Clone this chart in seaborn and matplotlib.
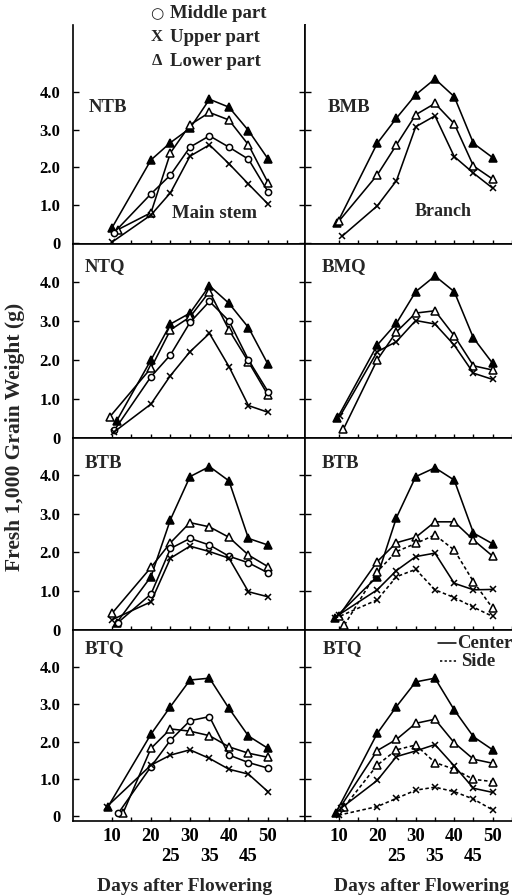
import matplotlib
matplotlib.use("Agg")
import matplotlib.pyplot as plt
from matplotlib.lines import Line2D
import seaborn as sns
import pandas as pd

sns.set_theme(style="white")
plt.rcParams["font.family"] = ["Liberation Serif", "DejaVu Serif"]
plt.rcParams["font.weight"] = "bold"

# ---------------- data (fresh 1,000 grain weight, g) ----------------
DAYS = [10, 20, 25, 30, 35, 40, 45, 50]

# NTB - main stem
ntb_filled = [0.40, 2.20, 2.66, 3.04, 3.81, 3.60, 2.98, 2.23]
ntb_lower = [0.35, 0.80, 2.39, 3.13, 3.46, 3.26, 2.60, 1.60]
ntb_middle = [0.27, 1.30, 1.80, 2.54, 2.84, 2.54, 2.22, 1.36]
ntb_upper = [0.02, 0.74, 1.33, 2.30, 2.60, 2.10, 1.56, 1.03]

# BMB - branch
bmb_filled = [0.52, 2.64, 3.31, 3.93, 4.35, 3.88, 2.64, 2.26]
bmb_lower = [0.57, 1.80, 2.60, 3.40, 3.70, 3.16, 2.04, 1.69]
bmb_upper = [0.17, 0.98, 1.65, 3.08, 3.37, 2.29, 1.85, 1.45]

# NTQ
ntq_filled = [0.44, 2.00, 2.92, 3.20, 3.90, 3.45, 2.83, 1.89]
ntq_lower = [0.55, 1.79, 2.77, 3.10, 3.75, 2.77, 1.95, 1.10]
ntq_middle = [0.20, 1.57, 2.13, 2.96, 3.50, 3.00, 2.00, 1.19]
ntq_upper = [0.16, 0.87, 1.60, 2.21, 2.68, 1.83, 0.83, 0.66]

# BMQ
bmq_filled = [0.50, 2.38, 2.94, 3.75, 4.15, 3.75, 2.56, 1.91]
bmq_lower = [0.22, 2.00, 2.72, 3.20, 3.26, 2.62, 1.85, 1.74]
bmq_upper = [0.57, 2.21, 2.47, 3.01, 2.92, 2.38, 1.66, 1.50]

# BTB (left)
btb_filled = [0.18, 1.37, 2.85, 3.96, 4.22, 3.85, 2.36, 2.19]
btb_lower = [0.42, 1.61, 2.25, 2.77, 2.66, 2.39, 1.93, 1.63]
btb_middle = [0.18, 0.92, 2.10, 2.36, 2.19, 1.90, 1.73, 1.47]
btb_upper = [0.25, 0.72, 1.85, 2.16, 2.02, 1.85, 0.98, 0.85]

# BTB (right, center / side)
btb2_filled = [0.30, 1.37, 2.90, 3.96, 4.19, 3.87, 2.50, 2.22]
btb2_lower_c = [0.35, 1.76, 2.25, 2.39, 2.79, 2.79, 2.32, 1.90]
btb2_lower_s = [0.12, 1.50, 2.02, 2.23, 2.45, 2.06, 1.24, 0.55]
btb2_upper_c = [0.38, 1.03, 1.53, 1.89, 1.98, 1.20, 1.03, 1.04]
btb2_upper_s = [0.29, 0.77, 1.37, 1.56, 1.03, 0.83, 0.58, 0.34]

# BTQ (left)
btq_filled = [0.26, 2.20, 2.94, 3.65, 3.70, 2.89, 2.15, 1.82]
btq_lower = [0.08, 1.82, 2.34, 2.28, 2.16, 1.86, 1.69, 1.58]
btq_middle = [0.08, 1.33, 2.04, 2.56, 2.67, 1.64, 1.44, 1.29]
btq_upper = [0.26, 1.37, 1.64, 1.78, 1.55, 1.26, 1.13, 0.66]

# BTQ (right, center / side)
btq2_filled = [0.08, 2.22, 2.94, 3.60, 3.70, 2.85, 2.13, 1.78]
btq2_lower_c = [0.26, 1.76, 2.06, 2.49, 2.60, 1.97, 1.53, 1.42]
btq2_lower_s = [0.26, 1.37, 1.78, 1.91, 1.44, 1.26, 0.99, 0.93]
btq2_upper_c = [0.21, 0.96, 1.60, 1.75, 1.92, 1.35, 0.75, 0.64]
btq2_upper_s = [0.03, 0.26, 0.48, 0.70, 0.78, 0.66, 0.46, 0.17]

# first sampling day (points near day 10 are slightly offset in the figure)
ntb_start = [10, 11.5, 10.5, 10]
bmb_start = [9.6, 10, 10.8]
ntq_start = [11.2, 9.5, 10.6, 10.6]
bmq_start = [9.6, 11.2, 10.4]
btb_start = [11.2, 10, 11.5, 9.9]
btb2_start = [9, 10, 11.5, 10, 9]
btq_start = [9, 12.8, 11.6, 8.7]
btq2_start = [9.2, 10.5, 11.5, 10.5, 10]

panel_names = ["NTB", "BMB", "NTQ", "BMQ", "BTB", "BTB", "BTQ", "BTQ"]
x_tick_vals = [10, 15, 20, 25, 30, 35, 40, 45, 50, 55]
x_tick_labels = ["10", "", "20", "\n25", "30", "\n35", "40", "\n45", "50", ""]
y_tick_vals = [0, 1, 2, 3, 4]
y_tick_labels = ["0", "1.0", "2.0", "3.0", "4.0"]

# ---------------- styles ----------------
STY = {
    "filled": dict(marker="^", markerfacecolor="black", markersize=5.3, linestyle="-"),
    "lower": dict(marker="^", markerfacecolor="white", markersize=5.3, linestyle="-"),
    "middle": dict(marker="o", markerfacecolor="white", markersize=4.5, linestyle="-"),
    "upper": dict(marker="x", markersize=4.8, linestyle="-"),
    "lower_s": dict(marker="^", markerfacecolor="white", markersize=5.3, linestyle=(0, (2.2, 1.6))),
    "upper_s": dict(marker="x", markersize=4.8, linestyle=(0, (2.2, 1.6))),
}

panels = [
    (ntb_start, [("filled", ntb_filled), ("lower", ntb_lower), ("middle", ntb_middle), ("upper", ntb_upper)]),
    (bmb_start, [("filled", bmb_filled), ("lower", bmb_lower), ("upper", bmb_upper)]),
    (ntq_start, [("filled", ntq_filled), ("lower", ntq_lower), ("middle", ntq_middle), ("upper", ntq_upper)]),
    (bmq_start, [("filled", bmq_filled), ("lower", bmq_lower), ("upper", bmq_upper)]),
    (btb_start, [("filled", btb_filled), ("lower", btb_lower), ("middle", btb_middle), ("upper", btb_upper)]),
    (btb2_start, [("filled", btb2_filled), ("lower", btb2_lower_c), ("lower_s", btb2_lower_s),
                  ("upper", btb2_upper_c), ("upper_s", btb2_upper_s)]),
    (btq_start, [("filled", btq_filled), ("lower", btq_lower), ("middle", btq_middle), ("upper", btq_upper)]),
    (btq2_start, [("filled", btq2_filled), ("lower", btq2_lower_c), ("lower_s", btq2_lower_s),
                  ("upper", btq2_upper_c), ("upper_s", btq2_upper_s)]),
]

# ---------------- layout ----------------
W, H = 512, 896
fig = plt.figure(figsize=(W / 100, H / 100), dpi=100)
fig.patch.set_facecolor("white")


def fx(x):
    return x / W


def fy(y):
    return 1 - y / H


cols = [(73, 305), (305, 512)]
rows = [(25, 244), (244, 438), (438, 630), (630, 821)]
ylims = [(-0.03, 5.78), (0, 4.97), (-0.01, 4.96), (-0.126, 4.99)]
xlims = [(0, 59.5), (1.25, 53)]
label_pos = [(89, 108), (328, 107), (85, 267), (322, 267), (85, 463), (322, 463), (85, 649), (323, 649)]

for i, (starts, series) in enumerate(panels):
    r, c = divmod(i, 2)
    x0, x1 = cols[c]
    y0, y1 = rows[r]
    ax = fig.add_axes([fx(x0), fy(y1), (x1 - x0) / W, (y1 - y0) / H])
    ax.set_facecolor("white")
    for k, (kind, vals) in enumerate(series):
        days = [starts[k]] + DAYS[1:]
        df = pd.DataFrame({"day": days, "w": vals})
        st = dict(STY[kind])
        sns.lineplot(data=df, x="day", y="w", ax=ax, color="black", linewidth=1.15,
                     markeredgecolor="black", markeredgewidth=1.1,
                     estimator=None, sort=False, **st)
    ax.set_xlim(*xlims[c])
    ax.set_ylim(*ylims[r])
    ax.set_xlabel("")
    ax.set_ylabel("")
    for s in ax.spines.values():
        s.set_color("black")
        s.set_linewidth(1.2)
    if r == 0:
        ax.spines["top"].set_visible(False)
    if c == 1:
        ax.spines["right"].set_visible(False)
    ax.set_xticks(x_tick_vals)
    ax.tick_params(axis="x", direction="in", length=3, width=1, bottom=True, top=False, color="black")
    if r == 3:
        ax.set_xticklabels(x_tick_labels, fontsize=13.5, fontweight="bold")
        ax.tick_params(axis="x", pad=5, labelcolor="black")
    else:
        ax.set_xticklabels([])
    ax.set_yticks(y_tick_vals)
    if c == 0:
        ax.set_yticklabels(y_tick_labels, fontsize=12, fontweight="bold")
        ax.tick_params(axis="y", direction="in", length=4, width=1, left=True, right=True,
                       pad=9, labelcolor="black", color="black")
    else:
        ax.set_yticklabels([])
        ax.tick_params(axis="y", direction="in", length=4, width=1, left=True, right=False, color="black")
    lx, ly = label_pos[i]
    fig.text(fx(lx), fy(ly), panel_names[i], fontsize=13.5, fontweight="bold", ha="left", va="center")

# part legend at top
fig.text(fx(157), fy(14), "○", family="DejaVu Sans", fontsize=11, ha="center", va="center", fontweight="bold")
fig.text(fx(157), fy(37), "X", fontsize=12, ha="center", va="center", fontweight="bold")
fig.text(fx(157), fy(61), "Δ", fontsize=12, ha="center", va="center", fontweight="bold")
fig.text(fx(170), fy(14), "Middle part", fontsize=13.5, ha="left", va="center", fontweight="bold")
fig.text(fx(170), fy(37), "Upper part", fontsize=13.5, ha="left", va="center", fontweight="bold")
fig.text(fx(170), fy(61), "Lower part", fontsize=13.5, ha="left", va="center", fontweight="bold")

fig.text(fx(214), fy(213), "Main stem", fontsize=13.5, ha="center", va="center", fontweight="bold")
fig.text(fx(443), fy(212), "Branch", fontsize=13, ha="center", va="center", fontweight="bold")

# center / side legend
fig.add_artist(Line2D([fx(438), fx(456)], [fy(643), fy(643)], color="black", lw=1.1))
fig.add_artist(Line2D([fx(440), fx(458)], [fy(661), fy(661)], color="black", lw=1.1, linestyle=(0, (1.5, 1.5))))
fig.text(fx(457), fy(643), "Center", fontsize=13.5, ha="left", va="center", fontweight="bold")
fig.text(fx(461), fy(661), "Side", fontsize=13.5, ha="left", va="center", fontweight="bold")

# axis titles
fig.text(fx(15), fy(437), "Fresh 1,000 Grain Weight (g)", rotation=90, fontsize=15.5,
         ha="center", va="center", fontweight="bold")
fig.text(fx(185), fy(886), "Days after Flowering", fontsize=14, ha="center", va="center", fontweight="bold")
fig.text(fx(422), fy(886), "Days after Flowering", fontsize=14, ha="center", va="center", fontweight="bold")

fig.savefig("out.png", dpi=100, facecolor="white")
